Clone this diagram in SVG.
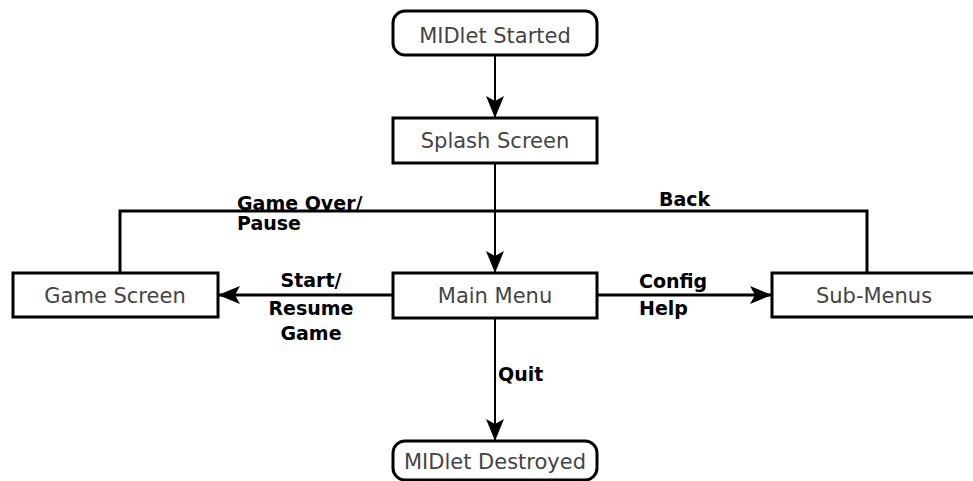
<svg xmlns="http://www.w3.org/2000/svg" width="973" height="481" viewBox="0 0 973 481">
  <style>
    .box { fill: #ffffff; stroke: #000000; stroke-width: 3; }
    .node-text { font-family: "DejaVu Sans", "Liberation Sans", sans-serif; font-size: 21px; fill: #444444; text-anchor: middle; }
    .label { font-family: "DejaVu Sans", "Liberation Sans", sans-serif; font-size: 19px; font-weight: bold; fill: #000000; }
    .edge { fill: none; stroke: #000000; stroke-width: 2; }
    .edge-thick { fill: none; stroke: #000000; stroke-width: 3; }
  </style>
  <defs>
    <marker id="arrow" markerUnits="userSpaceOnUse" viewBox="0 0 22 18" markerWidth="22" markerHeight="18" refX="22" refY="9" orient="auto">
      <path d="M0,0 L22,9 L0,18 L5,9 z" fill="#000000"/>
    </marker>
  </defs>
  <rect width="973" height="481" fill="#ffffff"/>

  <g id="connectors">
    <!-- start to splash -->
    <line class="edge" x1="495" y1="55" x2="495" y2="118" marker-end="url(#arrow)"/>
    <!-- splash to main menu -->
    <line class="edge" x1="495" y1="163" x2="495" y2="273" marker-end="url(#arrow)"/>
    <!-- return path from game screen and sub-menus -->
    <polyline class="edge-thick" points="120,273 120,211 867,211 867,273"/>
    <!-- main menu to game screen -->
    <line class="edge-thick" x1="393" y1="295" x2="218" y2="295" marker-end="url(#arrow)"/>
    <!-- main menu to sub-menus -->
    <line class="edge-thick" x1="597" y1="295" x2="772" y2="295" marker-end="url(#arrow)"/>
    <!-- main menu to destroyed -->
    <line class="edge" x1="495" y1="318" x2="495" y2="441" marker-end="url(#arrow)"/>

    <text class="label" x="237" y="210">Game Over/</text>
    <text class="label" x="237" y="230">Pause</text>
    <text class="label" x="659" y="206">Back</text>
    <text class="label" x="311" y="287" text-anchor="middle">Start/</text>
    <text class="label" x="311" y="315" text-anchor="middle">Resume</text>
    <text class="label" x="311" y="340" text-anchor="middle">Game</text>
    <text class="label" x="639" y="288">Config</text>
    <text class="label" x="639" y="315">Help</text>
    <text class="label" x="498" y="381">Quit</text>
  </g>

  <g id="midlet-started">
    <rect class="box" x="393" y="11" width="204" height="44" rx="12" ry="12"/>
    <text class="node-text" x="495" y="43">MIDlet Started</text>
  </g>

  <g id="splash-screen">
    <rect class="box" x="393" y="118" width="204" height="45"/>
    <text class="node-text" x="495" y="148">Splash Screen</text>
  </g>

  <g id="game-screen">
    <rect class="box" x="13" y="273" width="205" height="44"/>
    <text class="node-text" x="115" y="303">Game Screen</text>
  </g>

  <g id="main-menu">
    <rect class="box" x="393" y="273" width="204" height="45"/>
    <text class="node-text" x="495" y="303">Main Menu</text>
  </g>

  <g id="sub-menus">
    <rect class="box" x="772" y="273" width="206" height="44"/>
    <text class="node-text" x="874" y="303">Sub-Menus</text>
  </g>

  <g id="midlet-destroyed">
    <rect class="box" x="393" y="441" width="204" height="39" rx="12" ry="12"/>
    <text class="node-text" x="495" y="469">MIDlet Destroyed</text>
  </g>
</svg>
